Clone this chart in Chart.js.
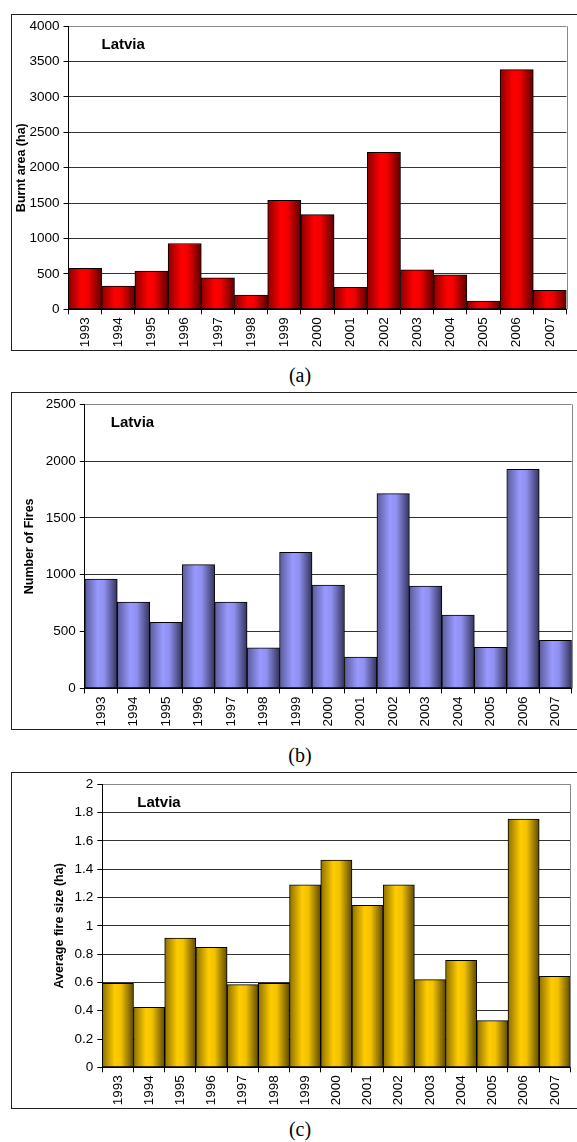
<!DOCTYPE html>
<html>
<head>
<meta charset="utf-8">
<script src="https://cdn.jsdelivr.net/npm/chart.js@4"></script>
<style>
body { margin:0; width:577px; height:1142px; background:#fff; overflow:hidden; position:relative; }
.frame { position:absolute; left:11px; width:600px; border:1.5px solid #222; box-sizing:border-box; }
canvas { position:absolute; left:0; }
.cap { position:absolute; left:250px; width:100px; text-align:center; font-family:"Liberation Serif", serif; font-size:20px; color:#000; line-height:20px; }
</style>
</head>
<body>
<div class="frame" style="top:14px;height:337px"></div>
<div class="frame" style="top:392px;height:338px"></div>
<div class="frame" style="top:772px;height:337px"></div>
<canvas id="chartA" width="577" height="336" style="top:14px"></canvas>
<canvas id="chartB" width="577" height="337" style="top:392px"></canvas>
<canvas id="chartC" width="577" height="336" style="top:772px"></canvas>
<div class="cap" style="top:365px">(a)</div>
<div class="cap" style="top:745px">(b)</div>
<div class="cap" style="top:1119px">(c)</div>
<script>
// data
const years = ['1993','1994','1995','1996','1997','1998','1999','2000','2001','2002','2003','2004','2005','2006','2007'];
const burntArea = [577, 329, 540, 930, 446, 202, 1540, 1338, 310, 2216, 559, 488, 117, 3385, 268];
const numFires = [962, 760, 581, 1089, 760, 358, 1197, 910, 276, 1714, 901, 646, 361, 1928, 423];
const avgSize = [0.594, 0.424, 0.914, 0.848, 0.584, 0.594, 1.289, 1.465, 1.145, 1.289, 0.620, 0.756, 0.330, 1.755, 0.643];

const ticksA = [0, 500, 1000, 1500, 2000, 2500, 3000, 3500, 4000];
const ticksB = [0, 500, 1000, 1500, 2000, 2500];
const ticksC = [0, 0.2, 0.4, 0.6, 0.8, 1, 1.2, 1.4, 1.6, 1.8, 2];

const FONT = "'Liberation Sans', Arial, sans-serif";

// horizontal gradient per bar, dark edges bright middle
function barFill(stops) {
  return function(ctx) {
    const chart = ctx.chart;
    const xs = chart.scales.x;
    if (!chart.chartArea || !xs || ctx.dataIndex === undefined) return stops[1];
    const c = xs.getPixelForValue(ctx.dataIndex);
    const half = xs.width / years.length / 2;
    const g = chart.ctx.createLinearGradient(c - half, 0, c + half, 0);
    g.addColorStop(0, stops[0]);
    g.addColorStop(0.4, stops[1]);
    g.addColorStop(0.6, stops[2]);
    g.addColorStop(1, stops[3]);
    return g;
  };
}

const plotFrame = {
  id: 'plotFrame',
  afterDraw(chart, args, opts) {
    const a = chart.chartArea, c = chart.ctx;
    c.save();
    c.strokeStyle = '#888';
    c.lineWidth = 1;
    c.beginPath();
    c.moveTo(Math.round(a.right) + 0.5, a.top);
    c.lineTo(Math.round(a.right) + 0.5, a.bottom);
    c.stroke();
    c.font = 'bold 15px ' + FONT;
    c.fillStyle = '#000';
    c.textBaseline = 'alphabetic';
    c.fillText('Latvia', a.left + opts.dx, a.top + 23);
    c.restore();
  }
};

function makeChart(id, values, tickVals, max, title, stops, g) {
  return new Chart(document.getElementById(id), {
    type: 'bar',
    data: {
      labels: years,
      datasets: [{
        data: values,
        backgroundColor: barFill(stops),
        borderColor: '#000',
        borderWidth: 1,
        borderSkipped: false,
        categoryPercentage: 1,
        barPercentage: 1
      }]
    },
    options: {
      responsive: false,
      animation: false,
      layout: { padding: { top: g.padTop, right: g.padRight, left: 0, bottom: 0 } },
      plugins: { legend: { display: false }, tooltip: { enabled: false }, plotFrame: { dx: g.latviaDx } },
      scales: {
        x: {
          grid: { display: true, drawOnChartArea: false, tickLength: 5, tickColor: '#000', offset: true },
          border: { color: '#000', width: 1 },
          ticks: { minRotation: 90, maxRotation: 90, padding: 3, color: '#000', font: { family: FONT, size: 13.5 }, autoSkip: false },
          afterFit(s) { s.height = g.xHeight; }
        },
        y: {
          min: 0,
          max: max,
          afterBuildTicks(s) { s.ticks = tickVals.map(v => ({ value: v })); },
          grid: { color: (c) => c.tick && c.tick.value === max ? '#888' : '#333', lineWidth: 1, tickLength: 5, tickColor: '#000' },
          border: { color: '#000', width: 1 },
          ticks: { padding: 4, color: '#000', font: { family: FONT, size: 13.5 }, callback: (v) => String(v) },
          title: { display: true, text: title, color: '#000', font: { family: FONT, size: 12.5, weight: 'bold' }, padding: { top: g.titlePad, bottom: 0 } },
          afterFit(s) { s.width = g.plotLeft; }
        }
      }
    },
    plugins: [plotFrame]
  });
}

makeChart('chartA', burntArea, ticksA, 4000, 'Burnt area (ha)', ['#8c0000', '#ff0000', '#f00000', '#5c0000'],
  { padTop: 11.5, padRight: 10.5, xHeight: 40.7, plotLeft: 68.5, titlePad: 14.2, latviaDx: 33 });
makeChart('chartB', numFires, ticksB, 2500, 'Number of Fires', ['#5a5a99', '#9999ff', '#9090f0', '#33335c'],
  { padTop: 12.3, padRight: 5.3, xHeight: 40.6, plotLeft: 84.8, titlePad: 22.5, latviaDx: 26 });
makeChart('chartC', avgSize, ticksC, 2, 'Average fire size (ha)', ['#8c7000', '#ffcc00', '#f2c200', '#5c4a00'],
  { padTop: 12.3, padRight: 6.6, xHeight: 40.7, plotLeft: 102.3, titlePad: 52.5, latviaDx: 35 });
</script>
</body>
</html>
